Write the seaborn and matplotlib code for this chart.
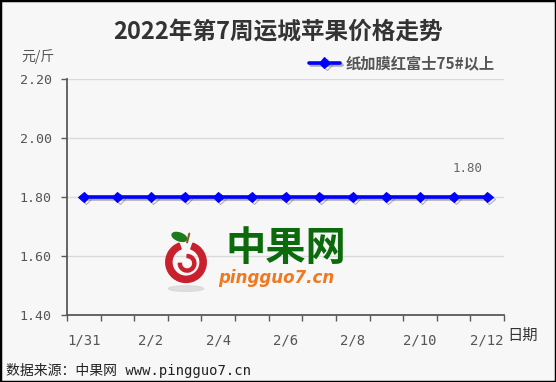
import numpy as np
import matplotlib
matplotlib.use("Agg")
import matplotlib.pyplot as plt
import matplotlib.patheffects as pe
from matplotlib.patches import Rectangle, Wedge, Ellipse
import seaborn as sns

# chart data
dates = ["1/31", "2/1", "2/2", "2/3", "2/4", "2/5", "2/6",
         "2/7", "2/8", "2/9", "2/10", "2/11", "2/12"]
prices = [1.80, 1.80, 1.80, 1.80, 1.80, 1.80, 1.80,
          1.80, 1.80, 1.80, 1.80, 1.80, 1.80]
series_name = "纸加膜红富士75#以上"
y_ticks = [1.40, 1.60, 1.80, 2.00, 2.20]
title = "2022年第7周运城苹果价格走势"

BG = "#f7f7f7"
AXIS = "#595959"
TEXT = "#555555"

sns.set_style("white")
plt.rcParams["font.family"] = ["Noto Sans CJK SC", "DejaVu Sans"]
MONO = ["DejaVu Sans Mono", "Noto Sans CJK SC"]

fig = plt.figure(figsize=(5.56, 3.82), dpi=100, facecolor=BG)
ax = fig.add_axes([0.1205, 0.1754, 0.786, 0.6178], facecolor=BG)

x = np.arange(len(dates))
sns.lineplot(
    x=x, y=prices, ax=ax,
    color="#0000ff", linewidth=2.6,
    marker="D", markersize=5.5, markeredgecolor="#0000ff",
    label=series_name, zorder=3,
    path_effects=[pe.SimpleLineShadow(offset=(1.5, -1.5), shadow_color="#555555", alpha=0.45),
                  pe.Normal()],
)

ax.set_xlim(-0.5, len(dates) - 0.5)
ax.set_ylim(y_ticks[0], y_ticks[-1])

# y axis
ax.set_yticks(y_ticks)
ax.set_yticklabels([f"{v:.2f}" for v in y_ticks], family=MONO, fontsize=9.5, color=TEXT)
ax.yaxis.grid(True, color="#d9d9d9", linewidth=1)
ax.tick_params(axis="y", length=4, width=1, color=AXIS, pad=7, left=True)

# x axis: ticks at category boundaries, labels every second day
ax.set_xticks(np.arange(-0.5, len(dates)), minor=True)
ax.set_xticks(x[::2])
ax.set_xticklabels(dates[::2], family=MONO, fontsize=10, color=TEXT)
ax.tick_params(axis="x", which="major", length=0, pad=13)
ax.tick_params(axis="x", which="minor", length=4, width=1, color=AXIS, bottom=True)

for side in ["top", "right"]:
    ax.spines[side].set_visible(False)
for side in ["left", "bottom"]:
    ax.spines[side].set_color(AXIS)
    ax.spines[side].set_linewidth(1.3)
ax.set_xlabel("")
ax.set_ylabel("")

# last value label
ax.annotate(f"{prices[-1]:.2f}", xy=(x[-1], prices[-1]), xytext=(-20, 28),
            textcoords="offset pixels", ha="center", va="center",
            family=MONO, fontsize=9, color="#666666")

leg = ax.legend(loc="center right", bbox_to_anchor=(0.915, 0.835),
                bbox_transform=fig.transFigure, frameon=False,
                handlelength=2.0, handletextpad=0.4,
                prop={"size": 11, "weight": "bold"})
for t in leg.get_texts():
    t.set_color(TEXT)

fig.text(0.5, 0.915, title, ha="center", va="center",
         fontsize=17, fontweight="bold", color="#333333")
fig.text(0.068, 0.851, "元/斤", ha="center", va="center", fontsize=10, color=TEXT)
fig.text(0.912, 0.123, "日期", ha="left", va="center", fontsize=11, color="#333333")
fig.text(0.01, 0.03, "数据来源：中果网 www.pingguo7.cn", ha="left", va="center",
         family=MONO, fontsize=10, color="#222222")

# watermark logo (apple) in a small square inset
logo = fig.add_axes([164 / 556, 1 - 292 / 382, 44 / 556, 64 / 382])
logo.set_xlim(-1, 1)
logo.set_ylim(-1.5, 1.4)
logo.set_aspect("equal")
logo.axis("off")
logo.add_patch(Ellipse((0, -1.35), 1.6, 0.25, color="#d8d8d8", alpha=0.8))
logo.add_patch(Wedge((0, -0.15), 0.92, 110, 430, width=0.28, color="#c8202c"))
logo.add_patch(Wedge((0.05, -0.2), 0.4, 180, 450, width=0.14, color="#c8202c"))
logo.add_patch(Ellipse((-0.3, 1.0), 0.7, 0.35, angle=-20, color="#1d7a1d"))
logo.plot([0.05, 0.15], [0.75, 1.15], color="#8b5a2b", linewidth=1.5)

fig.text(286 / 556, 1 - 248 / 382, "中果网", ha="center", va="center",
         fontsize=29, fontweight="bold", color="#0b6a0b")
fig.text(276 / 556, 1 - 278 / 382, "pingguo7.cn", ha="center", va="center",
         family="DejaVu Sans", fontsize=12, fontweight="bold", style="italic", color="#f07820")

# outer border
fig.patches.append(Rectangle((0, 0), 1, 1, transform=fig.transFigure, fill=False,
                             edgecolor="black", linewidth=2.5))

fig.savefig("out.png", dpi=100, facecolor=BG)
